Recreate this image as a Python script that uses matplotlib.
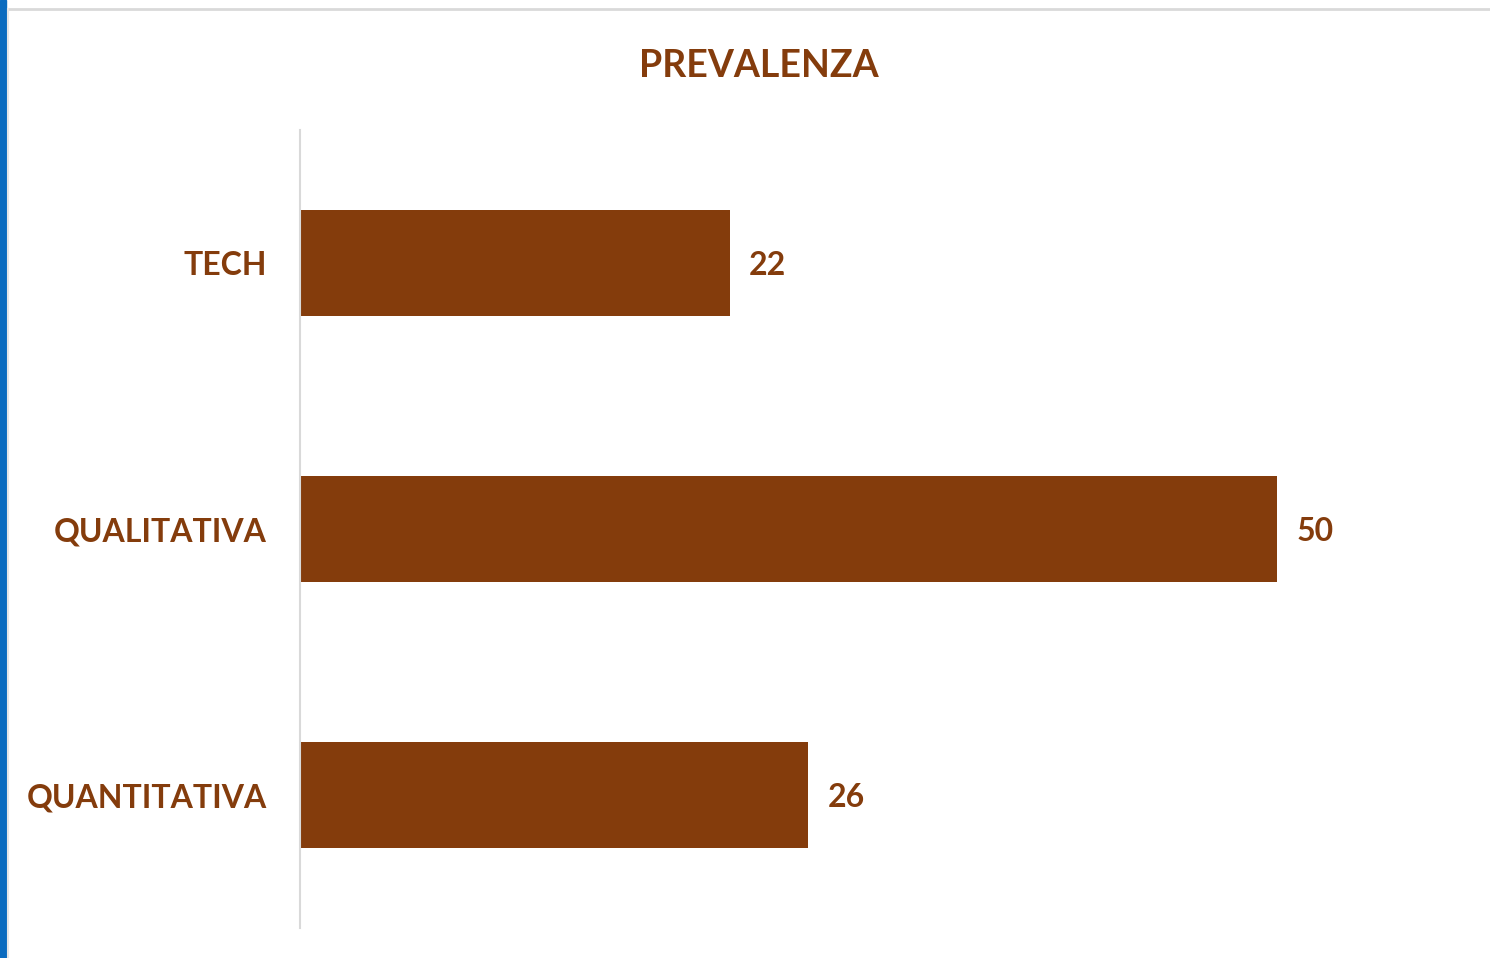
import matplotlib
matplotlib.use("Agg")
import matplotlib.pyplot as plt
from matplotlib.patches import Rectangle

categories = ["TECH", "QUALITATIVA", "QUANTITATIVA"]
values = [22, 50, 26]
title = "PREVALENZA"

BROWN = "#843C0C"
TEXT = "#843C0C"
FONT = "Lato"

fig = plt.figure(figsize=(14.9, 9.58), dpi=100)
fig.patch.set_facecolor("white")

# screenshot frame details
fig.add_artist(Rectangle((0, 0), 6 / 1490, 1, transform=fig.transFigure, color="#0A6BBF", zorder=0))
fig.add_artist(plt.Line2D([8 / 1490, 1], [1 - 9 / 958, 1 - 9 / 958], transform=fig.transFigure, color="#D9D9D9", lw=2))
fig.add_artist(plt.Line2D([8 / 1490, 8 / 1490], [0, 1 - 9 / 958], transform=fig.transFigure, color="#E6E6E6", lw=1.5))

ax = fig.add_axes([300 / 1490, 30 / 958, 1172 / 1490, 798 / 958])
y = list(range(len(categories)))
ax.barh(y, values, height=0.4, color=BROWN)
ax.set_ylim(len(categories) - 0.5, -0.5)
ax.set_xlim(0, 60)
ax.set_yticks(y)
ax.set_yticklabels(categories, fontsize=23, fontweight="bold", color=TEXT, family=FONT)
ax.tick_params(axis="y", length=0, pad=24)
ax.set_xticks([])
for s in ["top", "right", "bottom"]:
    ax.spines[s].set_visible(False)
ax.spines["left"].set_color("#D9D9D9")
ax.spines["left"].set_linewidth(1.5)

for yi, v in zip(y, values):
    ax.annotate(str(v), (v, yi), xytext=(14, -2), textcoords="offset points",
                va="center", ha="left", fontsize=23, fontweight="bold", color=TEXT, family=FONT)

fig.text(759 / 1490, 1 - 66 / 958, title, ha="center", va="center", fontsize=27,
         fontweight="bold", color=TEXT, family=FONT)

fig.savefig("out.png", dpi=100)
